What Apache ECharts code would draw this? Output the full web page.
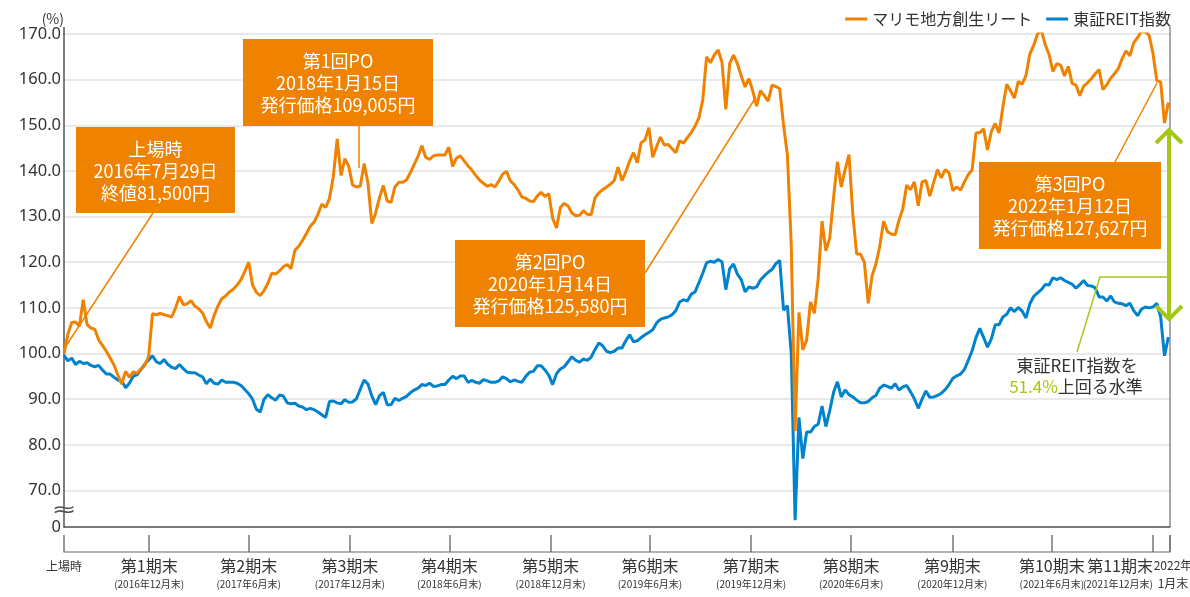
<!DOCTYPE html>
<html>
<head>
<meta charset="utf-8">
<title>マリモ地方創生リート 投資口価格推移</title>
<script src="https://cdn.jsdelivr.net/npm/echarts@6.0.0/dist/echarts.min.js"></script>
<style>
html, body { margin: 0; padding: 0; background: #fff; }
#chart { width: 1190px; height: 597px; }
</style>
</head>
<body>
<div id="chart"></div>
<script>
// 上場日から7日ごとの系列
var startDate = '2016-07-29';
var endDate = '2022-01-31';
var stepDays = 7;

// マリモ地方創生リート（上場時=100）
var marimoValues = [
    100.0,104.2,106.8,106.9,106.0,111.8,106.3,105.6,105.3,103.0,
    101.8,100.5,99.0,97.5,95.3,93.3,96.1,94.8,96.0,95.7,
    96.6,97.4,99.4,108.7,108.5,108.8,108.5,108.3,108.0,110.0,
    112.5,110.7,110.9,111.6,110.4,109.8,108.9,107.0,105.6,108.3,
    110.4,112.0,112.6,113.5,114.1,115.0,116.2,118.0,120.0,115.0,
    113.4,112.7,113.8,115.4,117.6,117.4,118.1,119.0,119.5,118.6,
    122.6,123.5,124.8,126.3,127.9,128.8,130.5,132.7,132.0,134.0,
    138.8,147.0,139.0,142.7,141.0,136.9,136.5,136.7,141.6,137.3,
    128.5,130.8,134.2,136.8,133.4,133.1,136.5,137.5,137.5,138.0,
    139.6,141.4,143.2,145.5,143.0,142.5,143.3,143.5,143.5,143.5,
    145.2,141.0,142.8,143.3,142.2,141.1,140.2,139.0,138.0,137.3,
    136.6,137.0,136.5,137.8,139.3,139.9,137.8,137.0,135.8,134.3,
    134.0,133.4,133.3,134.5,135.3,134.4,135.0,129.6,127.5,132.0,
    132.9,132.3,130.8,130.2,130.3,131.3,130.5,130.4,134.1,135.2,
    135.9,136.5,137.1,137.9,140.8,137.9,139.8,142.2,144.0,141.8,
    146.2,146.8,149.5,143.0,145.3,147.4,145.7,145.8,144.9,144.0,
    146.6,146.1,147.3,148.4,149.8,151.6,155.5,165.0,163.7,165.4,
    166.5,163.8,153.5,163.5,165.4,163.5,160.8,158.4,160.2,157.5,
    154.2,157.6,156.5,155.3,158.8,158.5,158.0,150.0,143.5,123.8,
    83.0,109.0,100.8,103.0,111.3,108.8,116.4,129.0,122.5,125.3,
    134.2,142.0,136.5,140.3,143.6,130.5,121.8,121.8,120.0,111.0,
    117.0,119.6,123.5,129.0,126.7,126.2,126.0,129.2,131.7,136.9,
    135.9,137.6,132.4,137.6,137.9,134.5,137.5,140.3,138.5,140.3,
    139.6,135.7,136.5,135.8,137.6,139.2,140.2,148.3,148.4,149.2,
    144.6,148.6,150.4,148.3,154.0,159.0,157.5,156.0,159.6,159.0,
    160.9,165.6,167.5,170.0,170.8,167.7,165.5,161.8,163.5,163.2,
    160.8,162.9,159.2,158.8,156.5,158.6,159.3,160.2,161.3,162.2,
    157.8,158.9,160.3,161.3,162.4,164.6,166.3,165.2,168.1,169.2,
    170.6,170.5,169.7,165.8,159.8,159.5,150.5,155.0
];

// 東証REIT指数（上場時=100）
var reitIndexValues = [
    99.6,98.4,99.0,97.6,98.3,97.8,98.0,97.4,97.1,97.4,
    96.4,95.5,95.5,94.8,94.2,94.0,92.5,93.5,95.0,95.4,
    96.5,97.7,98.6,99.5,98.2,97.8,98.7,97.6,97.0,96.7,
    97.6,96.7,95.9,95.8,95.8,95.3,94.9,93.4,94.4,93.5,
    93.3,94.2,93.7,93.7,93.7,93.5,93.0,92.1,91.2,90.0,
    87.8,87.2,90.0,91.0,90.3,89.8,90.9,90.7,89.2,89.0,
    89.1,88.5,88.3,87.7,88.0,87.7,87.2,86.6,86.0,89.5,
    89.6,89.2,89.0,89.9,89.3,89.4,90.1,92.2,94.2,93.3,
    90.7,88.8,90.8,91.5,88.8,88.8,90.2,89.7,90.2,90.6,
    91.4,92.0,92.4,93.2,93.0,93.5,92.8,92.9,93.2,93.2,
    94.2,95.0,94.5,95.1,95.1,93.7,94.1,93.7,93.5,94.3,
    94.0,93.7,93.7,94.0,94.9,94.5,93.8,94.2,93.9,93.7,
    95.0,95.9,96.1,97.3,97.3,96.4,95.2,93.2,95.6,96.6,
    97.1,98.2,99.3,98.5,98.1,98.8,98.5,99.2,100.9,102.3,
    101.7,100.5,100.2,100.5,101.2,101.2,102.8,104.1,102.6,102.8,
    103.5,104.1,104.6,105.2,106.7,107.5,107.8,108.0,108.5,109.4,
    111.3,111.8,111.5,113.0,113.5,115.5,117.6,119.9,120.2,120.0,
    120.6,120.1,114.0,118.6,119.6,117.4,116.2,113.5,114.6,114.3,
    114.6,116.1,117.0,117.8,118.4,119.7,120.4,109.5,110.5,100.0,
    63.5,86.0,77.0,82.8,82.8,84.0,84.5,88.5,84.0,87.5,
    91.5,93.8,90.5,92.0,91.0,90.5,89.8,89.2,89.2,89.5,
    90.3,90.8,92.4,93.1,92.8,92.4,93.4,92.0,92.7,93.0,
    91.6,90.1,88.0,90.0,91.8,90.4,90.5,90.8,91.3,92.1,
    93.2,94.6,95.1,95.5,96.5,98.5,100.6,103.5,105.5,103.5,
    101.4,103.2,106.3,106.3,108.0,108.6,110.0,109.2,110.1,109.3,
    107.8,110.9,112.5,113.3,114.0,115.1,115.0,116.6,116.2,116.6,
    116.0,115.6,115.2,114.3,115.1,116.0,114.9,114.8,114.4,112.4,
    112.4,111.5,112.6,111.3,111.0,110.9,110.5,111.0,109.4,108.3,
    109.7,110.2,110.0,110.2,111.0,108.0,99.5,103.6
];

// 決算期末（x軸の目盛）
var periodDates = ['2016-07-29', '2016-12-31', '2017-06-30', '2017-12-31', '2018-06-30', '2018-12-31',
    '2019-06-30', '2019-12-31', '2020-06-30', '2020-12-31', '2021-06-30', '2021-12-31', '2022-01-31'];
var periodNames = ['上場時', '第1期末', '第2期末', '第3期末', '第4期末', '第5期末',
    '第6期末', '第7期末', '第8期末', '第9期末', '第10期末', '第11期末', '2022年'];
var periodSubs = ['', '(2016年12月末)', '(2017年6月末)', '(2017年12月末)', '(2018年6月末)', '(2018年12月末)',
    '(2019年6月末)', '(2019年12月末)', '(2020年6月末)', '(2020年12月末)', '(2021年6月末)', '(2021年12月末)', '1月末'];

var ORANGE = '#EF8200';
var BLUE = '#0082CC';
var GREEN = '#A5C816';
var FONT = "'Noto Sans CJK JP', 'Noto Sans', sans-serif";
var NARROW = "'Liberation Sans Narrow', 'Noto Sans CJK JP', sans-serif";

function toTime(s, addDays) {
    var p = s.split('-');
    return new Date(+p[0], +p[1] - 1, +p[2] + (addDays || 0)).getTime();
}

var dates = [];
for (var i = 0; i < marimoValues.length; i++) {
    dates.push(toTime(startDate, i * stepDays));
}
var periodTimes = periodDates.map(function (d) { return toTime(d); });
// 第11期末のラベルは右寄せにするので別の軸に置く
var lastPeriodIndex = periodTimes.length - 2;
var centerLabelTimes = periodTimes.filter(function (t, k) { return k !== lastPeriodIndex; });

function pairs(values) {
    return values.map(function (v, i) { return [dates[i], v]; });
}

function periodLabel(value) {
    var k = periodTimes.indexOf(value);
    if (k < 0) return '';
    if (k === 0) return '{top|' + periodNames[k] + '}';
    if (k === periodTimes.length - 1) return '{end|' + periodNames[k] + '}\n{end|' + periodSubs[k] + '}';
    return '{n|' + periodNames[k] + '}\n{s|' + periodSubs[k] + '}';
}
var periodRich = {
    n: { fontSize: 16, color: '#333', lineHeight: 20, fontFamily: FONT },
    s: { fontSize: 10, color: '#333', lineHeight: 16, fontFamily: NARROW },
    top: { fontSize: 12, color: '#333', lineHeight: 20, fontFamily: NARROW },
    end: { fontSize: 12, color: '#333', lineHeight: 18, fontFamily: NARROW, padding: [0, 0, 0, 6] }
};

/*注記ボックス*/
function noteBox(x, y, w, h, text) {
    return [{
        type: 'rect',
        z: 100,
        shape: { x: x, y: y, width: w, height: h },
        style: { fill: ORANGE }
    }, {
        type: 'text',
        z: 101,
        x: x + w / 2,
        y: y + h / 2 + 1,
        style: {
            text: text,
            fill: '#fff',
            fontSize: 18,
            fontFamily: FONT,
            lineHeight: 22,
            align: 'center', verticalAlign: 'middle',
            textAlign: 'center', textVerticalAlign: 'middle'
        }
    }];
}
function leader(x1, y1, x2, y2, color, width) {
    return {
        type: 'line',
        z: 99,
        shape: { x1: x1, y1: y1, x2: x2, y2: y2 },
        style: { stroke: color, lineWidth: width || 1.5 }
    };
}

var graphics = []
    .concat(noteBox(76, 127, 159, 86, '上場時\n2016年7月29日\n終値81,500円'))
    .concat(noteBox(243, 39, 190, 87, '第1回PO\n2018年1月15日\n発行価格109,005円'))
    .concat(noteBox(455, 240, 190, 87, '第2回PO\n2020年1月14日\n発行価格125,580円'))
    .concat(noteBox(979, 162, 182, 87, '第3回PO\n2022年1月12日\n発行価格127,627円'))
    .concat([
        leader(153, 213, 64, 349, ORANGE),
        leader(359, 126, 359, 168, ORANGE),
        leader(645, 273, 756, 97, ORANGE),
        leader(1115, 162, 1157, 83, ORANGE),
        // 軸の上端と右枠
        leader(64, 27, 64, 34, '#555', 1.5),
        leader(1170, 27, 1170, 527, '#555', 1),
        leader(1170, 535, 1170, 552, '#777', 1.5),
        // 差の矢印
        leader(1169, 130, 1169, 319, GREEN, 4),
        {
            type: 'polyline', z: 110,
            shape: { points: [[1156, 143], [1169, 130], [1182, 143]] },
            style: { stroke: GREEN, lineWidth: 4, fill: null }
        },
        {
            type: 'polyline', z: 110,
            shape: { points: [[1156, 306], [1169, 319], [1182, 306]] },
            style: { stroke: GREEN, lineWidth: 4, fill: null }
        },
        {
            type: 'polyline', z: 110,
            shape: { points: [[1169, 277], [1100, 277], [1077, 352]] },
            style: { stroke: GREEN, lineWidth: 1.5, fill: null }
        },
        {
            type: 'text', z: 110, x: 1077, y: 366,
            style: {
                text: '東証REIT指数を', fill: '#333', fontSize: 17, fontFamily: FONT,
                align: 'center', verticalAlign: 'middle', textAlign: 'center', textVerticalAlign: 'middle'
            }
        },
        {
            type: 'text', z: 110, x: 1076, y: 387,
            style: {
                text: '{g|51.4%}{d|上回る水準}',
                align: 'center', verticalAlign: 'middle', textAlign: 'center', textVerticalAlign: 'middle',
                rich: {
                    g: { fill: GREEN, color: GREEN, fontSize: 17, fontFamily: FONT },
                    d: { fill: '#333', color: '#333', fontSize: 17, fontFamily: FONT }
                }
            }
        },
        // 縦軸の省略記号
        {
            type: 'text', z: 110, x: 64, y: 511, scaleX: 1.5,
            style: {
                text: '≈', fill: '#555', fontSize: 20, fontFamily: 'DejaVu Sans',
                align: 'center', verticalAlign: 'middle', textAlign: 'center', textVerticalAlign: 'middle'
            }
        }
    ]);

var option = {
    animation: false,
    backgroundColor: '#fff',
    textStyle: { fontFamily: FONT },
    legend: {
        data: ['マリモ地方創生リート', '東証REIT指数'],
        right: 14,
        top: 6,
        icon: 'rect',
        itemWidth: 22,
        itemHeight: 3,
        itemGap: 14,
        textStyle: { color: '#333', fontSize: 16, fontFamily: FONT }
    },
    grid: {
        left: 64,
        right: 20,
        top: 34,
        bottom: 70,
        outerBoundsMode: 'none'
    },
    xAxis: [{
        type: 'time',
        min: toTime(startDate),
        max: toTime(endDate),
        axisLine: { lineStyle: { color: '#555', width: 1.5 } },
        axisTick: { show: false },
        axisLabel: { show: false },
        splitLine: { show: false }
    }, {
        // 決算期末の目盛（日付のタイムスタンプで配置）
        type: 'value',
        position: 'bottom',
        offset: 25,
        min: toTime(startDate),
        max: toTime(endDate),
        axisLine: { show: true, lineStyle: { color: '#999', width: 1.5 } },
        axisTick: {
            show: true,
            inside: true,
            length: 17,
            customValues: periodTimes,
            lineStyle: { color: '#777', width: 1.5 }
        },
        axisLabel: {
            margin: 4,
            showMinLabel: true,
            showMaxLabel: true,
            customValues: centerLabelTimes,
            formatter: periodLabel,
            rich: periodRich
        },
        splitLine: { show: false }
    }, {
        // 第11期末（右寄せ）
        type: 'value',
        position: 'bottom',
        offset: 25,
        min: toTime(startDate),
        max: toTime(endDate),
        axisLine: { show: false },
        axisTick: { show: false },
        axisLabel: {
            margin: 4,
            align: 'right',
            customValues: [periodTimes[lastPeriodIndex]],
            formatter: periodLabel,
            rich: periodRich
        },
        splitLine: { show: false }
    }],
    yAxis: {
        type: 'value',
        min: 62,
        max: 170,
        splitNumber: 11,
        name: '(%)',
        nameLocation: 'end',
        nameGap: 8,
        nameTextStyle: { color: '#333', fontSize: 14, align: 'right', fontFamily: FONT },
        axisLine: { show: true, lineStyle: { color: '#555', width: 1.5 } },
        axisTick: { show: false },
        axisLabel: {
            margin: 3,
            color: '#333',
            fontSize: 16.5,
            fontFamily: "'Noto Sans', sans-serif",
            formatter: function (v) {
                return v < 65 ? '0' : v.toFixed(1);
            }
        },
        splitLine: { lineStyle: { color: '#e2e2e2', width: 1.5 } }
    },
    series: [{
        name: '東証REIT指数',
        type: 'line',
        xAxisIndex: 0,
        symbol: 'none',
        lineStyle: { color: BLUE, width: 3 },
        itemStyle: { color: BLUE },
        data: pairs(reitIndexValues)
    }, {
        name: 'マリモ地方創生リート',
        type: 'line',
        xAxisIndex: 0,
        symbol: 'none',
        lineStyle: { color: ORANGE, width: 3 },
        itemStyle: { color: ORANGE },
        data: pairs(marimoValues)
    }],
    graphic: graphics
};

var chart = echarts.init(document.getElementById('chart'));
chart.setOption(option);
</script>
</body>
</html>
